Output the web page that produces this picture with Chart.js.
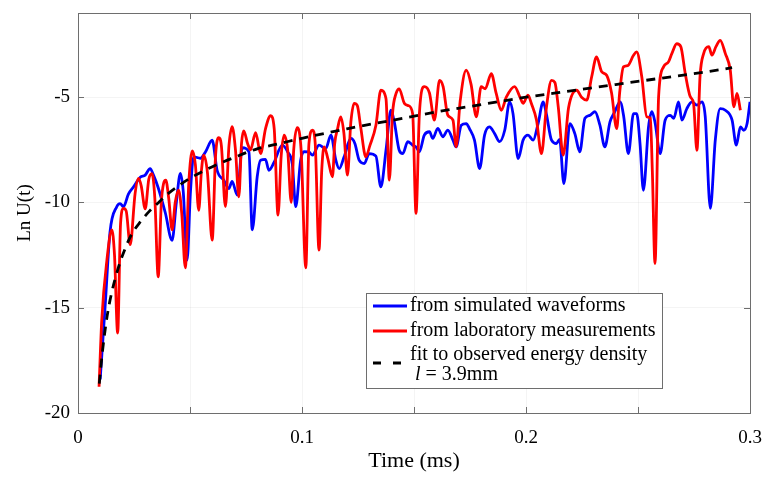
<!DOCTYPE html>
<html>
<head>
<meta charset="utf-8">
<script src="https://cdn.jsdelivr.net/npm/chart.js@4.4.1/dist/chart.umd.min.js"></script>
<style>
  html, body { margin: 0; padding: 0; background: #fff; }
  #wrap { width: 763px; height: 478px; }
</style>
</head>
<body>
<div id="wrap"><canvas id="lnChart" width="763" height="478"></canvas></div>
<script>
// 刻度
const xTickLabels = [0, 0.1, 0.2, 0.3];
const xTickMinor = [0.05, 0.15, 0.25];
const yTickLabels = [-20, -15, -10, -5];

// legend text
const seriesNames = ['from simulated waveforms', 'from laboratory measurements', 'fit to observed energy density'];
const fitNote = ['l', ' = 3.9mm'];

// blue: from simulated waveforms (time in ms, Ln U)
const blueT = [0.0099, 0.0121, 0.0143, 0.0173, 0.0188, 0.0203, 0.0225, 0.0248, 0.0278, 0.0300,
  0.0322, 0.0337, 0.0358, 0.0390, 0.0420, 0.0439, 0.0457, 0.0470, 0.0487, 0.0502,
  0.0516, 0.0546, 0.0569, 0.0599, 0.0621, 0.0651, 0.0673, 0.0688, 0.0711, 0.0733,
  0.0763, 0.0778, 0.0800, 0.0815, 0.0837, 0.0852, 0.0875, 0.0912, 0.0936, 0.0957,
  0.0972, 0.0994, 0.1009, 0.1030, 0.1047, 0.1076, 0.1106, 0.1129, 0.1151, 0.1166,
  0.1188, 0.1218, 0.1236, 0.1255, 0.1278, 0.1300, 0.1330, 0.1352, 0.1375, 0.1397,
  0.1412, 0.1434, 0.1450, 0.1472, 0.1494, 0.1509, 0.1524, 0.1546, 0.1569, 0.1584,
  0.1606, 0.1629, 0.1651, 0.1674, 0.1688, 0.1711, 0.1733, 0.1748, 0.1770, 0.1793,
  0.1815, 0.1837, 0.1860, 0.1882, 0.1905, 0.1927, 0.1942, 0.1965, 0.1987, 0.2009,
  0.2032, 0.2054, 0.2077, 0.2091, 0.2114, 0.2136, 0.2150, 0.2169, 0.2196, 0.2218,
  0.2240, 0.2263, 0.2285, 0.2308, 0.2330, 0.2352, 0.2375, 0.2396, 0.2420, 0.2436,
  0.2457, 0.2480, 0.2494, 0.2509, 0.2524, 0.2547, 0.2562, 0.2576, 0.2599, 0.2621,
  0.2644, 0.2660, 0.2681, 0.2696, 0.2718, 0.2741, 0.2763, 0.2786, 0.2800, 0.2823,
  0.2845, 0.2867, 0.2890, 0.2920, 0.2939, 0.2957, 0.2972, 0.2987, 0.3000];
const blueV = [-18.4, -14.95, -11.4, -10.2, -10.05, -10.2, -9.6, -9.26, -8.8, -8.7,
  -8.39, -8.7, -9.3, -10.5, -11.8, -10.0, -8.62, -9.5, -12.74, -9.5,
  -7.83, -7.9, -7.6, -7.04, -8.47, -8.94, -9.34, -9.0, -9.65, -7.4,
  -7.6, -11.3, -8.78, -7.99, -7.95, -8.47, -8.1, -7.28, -7.6, -8.2,
  -10.2, -7.99, -7.59, -7.6, -7.75, -7.28, -7.44, -6.8, -7.99, -8.39,
  -7.83, -6.96, -7.2, -7.99, -8.15, -7.68, -7.8, -9.26, -7.52, -5.62,
  -6.17, -7.52, -7.68, -7.11, -7.28, -7.36, -7.59, -6.8, -6.64, -6.96,
  -6.48, -6.88, -6.56, -7.04, -7.36, -6.33, -6.25, -6.5, -7.04, -8.39,
  -6.8, -6.41, -6.73, -7.11, -6.57, -5.22, -5.78, -7.92, -7.04, -6.8,
  -7.04, -6.25, -5.22, -5.8, -7.04, -7.2, -7.0, -9.1, -6.25, -6.73,
  -7.59, -6.0, -5.86, -5.69, -6.33, -7.36, -6.17, -5.7, -5.22, -5.9,
  -7.68, -5.78, -5.78, -7.2, -9.42, -6.41, -5.69, -6.2, -7.68, -6.09,
  -5.86, -6.0, -5.22, -6.09, -5.54, -5.22, -5.38, -5.22, -5.9, -10.28,
  -7.04, -5.54, -5.62, -6.09, -7.28, -6.41, -6.57, -6.25, -5.22];

// red: from laboratory measurements
const redT = [0.0094, 0.0106, 0.0129, 0.0151, 0.0163, 0.0177, 0.0190, 0.0203, 0.0215, 0.0233,
  0.0255, 0.0270, 0.0282, 0.0300, 0.0316, 0.0330, 0.0343, 0.0358, 0.0372, 0.0382,
  0.0392, 0.0405, 0.0420, 0.0434, 0.0449, 0.0463, 0.0479, 0.0495, 0.0511, 0.0524,
  0.0539, 0.0551, 0.0561, 0.0578, 0.0599, 0.0614, 0.0628, 0.0640, 0.0658, 0.0674,
  0.0688, 0.0703, 0.0718, 0.0730, 0.0740, 0.0757, 0.0770, 0.0793, 0.0815, 0.0837,
  0.0860, 0.0876, 0.0893, 0.0907, 0.0920, 0.0936, 0.0952, 0.0963, 0.0979, 0.0996,
  0.1017, 0.1031, 0.1047, 0.1059, 0.1076, 0.1088, 0.1099, 0.1115, 0.1136, 0.1146,
  0.1159, 0.1173, 0.1187, 0.1203, 0.1218, 0.1233, 0.1247, 0.1263, 0.1285, 0.1303,
  0.1330, 0.1352, 0.1375, 0.1390, 0.1404, 0.1420, 0.1434, 0.1457, 0.1475, 0.1494,
  0.1509, 0.1524, 0.1546, 0.1569, 0.1591, 0.1614, 0.1630, 0.1651, 0.1674, 0.1688,
  0.1706, 0.1733, 0.1755, 0.1778, 0.1800, 0.1818, 0.1845, 0.1867, 0.1890, 0.1912,
  0.1949, 0.1972, 0.1987, 0.2009, 0.2024, 0.2047, 0.2069, 0.2091, 0.2114, 0.2129,
  0.2144, 0.2166, 0.2190, 0.2226, 0.2248, 0.2271, 0.2293, 0.2315, 0.2338, 0.2360,
  0.2382, 0.2405, 0.2418, 0.2435, 0.2454, 0.2480, 0.2494, 0.2517, 0.2539, 0.2555,
  0.2564, 0.2576, 0.2592, 0.2614, 0.2636, 0.2651, 0.2673, 0.2691, 0.2711, 0.2733,
  0.2748, 0.2763, 0.2777, 0.2793, 0.2816, 0.2830, 0.2848, 0.2867, 0.2890, 0.2912,
  0.2928, 0.2942, 0.2957];
const redV = [-18.75, -15.6, -12.74, -11.3, -12.5, -16.2, -11.0, -10.28, -10.4, -12.0,
  -9.57, -8.86, -9.2, -10.3, -8.9, -8.63, -9.8, -13.53, -10.0, -9.1,
  -8.94, -9.8, -11.3, -10.0, -9.42, -10.5, -13.1, -9.0, -7.55, -8.2,
  -10.37, -8.5, -7.75, -8.6, -11.79, -7.8, -6.92, -7.3, -10.2, -7.3,
  -6.4, -7.5, -9.73, -7.2, -6.6, -7.2, -7.5, -6.68, -7.68, -6.5,
  -5.88, -6.5, -10.6, -7.8, -6.8, -7.5, -10.0, -7.5, -6.45, -7.5,
  -13.1, -7.2, -6.57, -7.2, -12.26, -8.5, -7.36, -7.9, -8.78, -7.2,
  -6.49, -5.93, -6.7, -8.7, -6.2, -5.29, -5.4, -6.5, -7.83, -7.3,
  -6.33, -4.67, -5.07, -8.94, -5.8, -4.82, -4.6, -5.29, -5.4, -5.78,
  -10.52, -5.8, -4.5, -4.8, -6.09, -4.2, -4.5, -5.86, -6.09, -7.36,
  -5.2, -3.72, -4.4, -5.93, -4.5, -4.6, -3.88, -4.82, -5.62, -5.0,
  -4.5, -4.97, -5.29, -4.9, -5.3, -6.09, -7.68, -5.5, -4.2, -4.3,
  -5.46, -7.75, -5.5, -4.67, -5.0, -5.14, -4.04, -3.09, -3.79, -3.96,
  -4.8, -6.49, -4.8, -3.56, -3.5, -3.01, -2.85, -4.04, -5.93, -6.0,
  -8.5, -12.9, -4.97, -3.56, -3.32, -2.93, -2.46, -2.6, -3.88, -4.97,
  -5.3, -7.52, -4.0, -2.93, -2.6, -3.0, -2.6, -2.3, -2.93, -3.72,
  -5.46, -4.82, -5.62];

// dashed fit
const fitT = [0.0095, 0.011, 0.013, 0.015, 0.018, 0.021, 0.024, 0.028, 0.032, 0.036,
  0.04, 0.045, 0.05, 0.06, 0.07, 0.08, 0.09, 0.1, 0.12, 0.14,
  0.16, 0.18, 0.2, 0.22, 0.24, 0.26, 0.28, 0.292];
const fitV = [-18.6, -17.0, -15.4, -14.3, -13.1, -12.2, -11.5, -10.9, -10.4, -10.0,
  -9.6, -9.2, -8.85, -8.3, -7.85, -7.45, -7.2, -6.95, -6.5, -6.1,
  -5.7, -5.35, -5.0, -4.7, -4.4, -4.1, -3.8, -3.6];

const toPts = (ts, vs) => ts.map((t, i) => ({ x: t, y: vs[i] }));
const near = (a, b) => Math.abs(a - b) < 1e-9;

const SERIF = '"Liberation Serif", "DejaVu Serif", serif';

// 内向刻度 + 外框
const frameTicks = {
  id: 'frameTicks',
  afterDatasetsDraw(chart) {
    const { ctx, chartArea: a, scales } = chart;
    const len = 6;
    ctx.save();
    ctx.strokeStyle = '#6e6e6e';
    ctx.lineWidth = 1;
    ctx.strokeRect(a.left + 0.5, a.top + 0.5, a.right - a.left, a.bottom - a.top);
    ctx.beginPath();
    scales.x.ticks.forEach(tk => {
      const px = Math.round(scales.x.getPixelForValue(tk.value)) + 0.5;
      ctx.moveTo(px, a.bottom); ctx.lineTo(px, a.bottom - len);
      ctx.moveTo(px, a.top); ctx.lineTo(px, a.top + len);
    });
    scales.y.ticks.forEach(tk => {
      const py = Math.round(scales.y.getPixelForValue(tk.value)) + 0.5;
      ctx.moveTo(a.left, py); ctx.lineTo(a.left + len, py);
      ctx.moveTo(a.right, py); ctx.lineTo(a.right - len, py);
    });
    ctx.stroke();
    ctx.restore();
  }
};

// legend box drawn inside plot
const boxLegend = {
  id: 'boxLegend',
  afterDraw(chart) {
    const { ctx, chartArea: a } = chart;
    const x0 = a.left + 288, y0 = a.top + 280, w = 296, h = 95;
    ctx.save();
    ctx.fillStyle = '#fff';
    ctx.fillRect(x0, y0, w, h);
    ctx.strokeStyle = '#6e6e6e';
    ctx.lineWidth = 1;
    ctx.strokeRect(x0 + 0.5, y0 + 0.5, w, h);
    const sx = x0 + 7, ex = x0 + 41, tx = x0 + 44;
    const rows = [y0 + 13, y0 + 38];
    const cols = ['#0000ff', '#ff0000'];
    ctx.lineWidth = 2.8;
    rows.forEach((ry, i) => {
      ctx.strokeStyle = cols[i];
      ctx.beginPath(); ctx.moveTo(sx, ry); ctx.lineTo(ex, ry); ctx.stroke();
    });
    ctx.strokeStyle = '#000';
    ctx.setLineDash([8, 12]);
    ctx.beginPath(); ctx.moveTo(sx, y0 + 70); ctx.lineTo(sx + 28, y0 + 70); ctx.stroke();
    ctx.setLineDash([]);
    ctx.fillStyle = '#000';
    ctx.textBaseline = 'middle';
    ctx.font = '20px ' + SERIF;
    ctx.fillText(seriesNames[0], tx, rows[0]);
    ctx.fillText(seriesNames[1], tx, rows[1]);
    ctx.fillText(seriesNames[2], tx, y0 + 62);
    ctx.font = 'italic 20px ' + SERIF;
    ctx.fillText(fitNote[0], tx + 5, y0 + 82);
    const lw = ctx.measureText(fitNote[0]).width;
    ctx.font = '20px ' + SERIF;
    ctx.fillText(fitNote[1], tx + 5 + lw, y0 + 82);
    ctx.restore();
  }
};

const ctx = document.getElementById('lnChart').getContext('2d');

const lnChart = new Chart(ctx, {
  type: 'line',
  data: {
    datasets: [
      {
        label: seriesNames[0],
        data: toPts(blueT, blueV),
        borderColor: '#0000ff',
        borderWidth: 2.8,
        pointRadius: 0,
        cubicInterpolationMode: 'monotone',
        order: 3
      },
      {
        label: seriesNames[1],
        data: toPts(redT, redV),
        borderColor: '#ff0000',
        borderWidth: 2.8,
        pointRadius: 0,
        cubicInterpolationMode: 'monotone',
        order: 2
      },
      {
        label: seriesNames[2],
        data: toPts(fitT, fitV),
        borderColor: '#000000',
        borderWidth: 2.8,
        borderDash: [9, 7],
        pointRadius: 0,
        cubicInterpolationMode: 'monotone',
        order: 1
      }
    ]
  },
  options: {
    responsive: false,
    animation: false,
    layout: { padding: { top: 13, right: 13, left: 0, bottom: 0 } },
    plugins: {
      legend: { display: false },
      tooltip: { enabled: false }
    },
    scales: {
      x: {
        type: 'linear',
        min: 0,
        max: 0.3,
        afterBuildTicks: s => {
          s.ticks = xTickLabels.concat(xTickMinor).sort((p, q) => p - q).map(v => ({ value: v }));
        },
        afterFit: s => { s.height = 65; s.paddingLeft = 0; s.paddingRight = 0; },
        grid: { color: 'rgba(0,0,0,0.045)', drawTicks: false },
        border: { display: false },
        ticks: {
          color: '#000',
          padding: 14,
          maxRotation: 0,
          font: { family: SERIF, size: 19 },
          callback: v => (xTickLabels.some(l => near(l, v)) ? String(Number(v.toFixed(2))) : '')
        },
        title: {
          display: true,
          text: 'Time (ms)',
          color: '#000',
          font: { family: SERIF, size: 22 },
          padding: { top: 3 }
        }
      },
      y: {
        type: 'linear',
        min: -20,
        max: -1,
        afterBuildTicks: s => { s.ticks = yTickLabels.map(v => ({ value: v })); },
        afterFit: s => { s.width = 78; s.paddingTop = 0; s.paddingBottom = 0; },
        grid: { color: 'rgba(0,0,0,0.045)', drawTicks: false },
        border: { display: false },
        ticks: {
          color: '#000',
          padding: 8,
          font: { family: SERIF, size: 19 }
        },
        title: {
          display: true,
          text: 'Ln U(t)',
          color: '#000',
          font: { family: SERIF, size: 19 },
          padding: { top: 14, bottom: 0 }
        }
      }
    }
  },
  plugins: [frameTicks, boxLegend]
});
</script>
</body>
</html>
